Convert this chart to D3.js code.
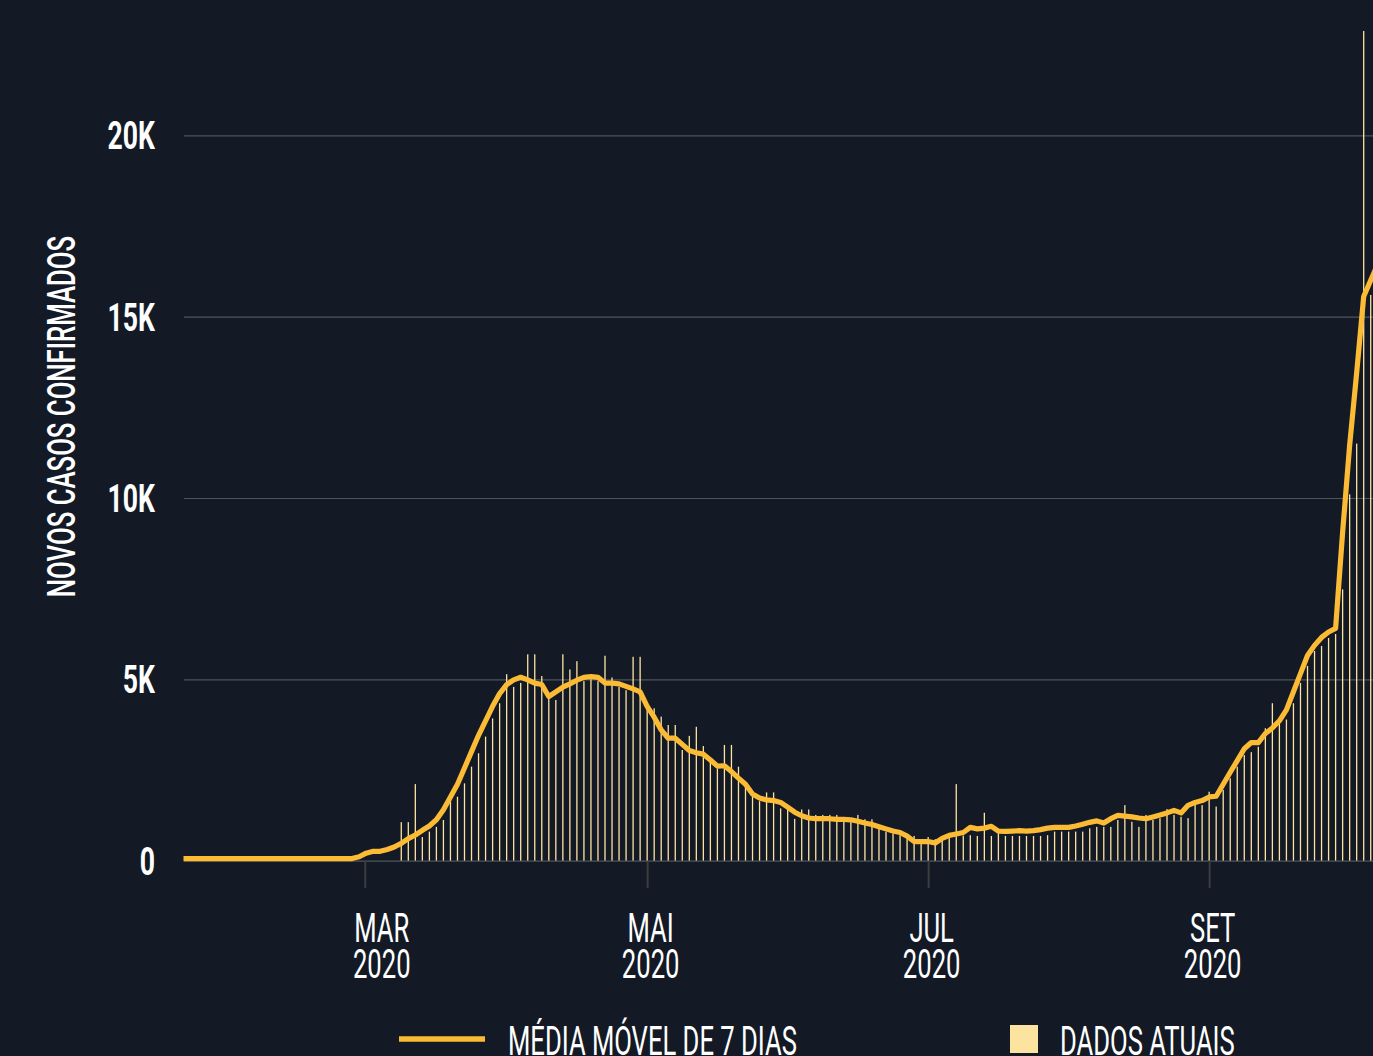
<!DOCTYPE html>
<meta charset="utf-8">
<script src="https://d3js.org/d3.v7.min.js"></script>
<style>
  html, body { margin: 0; padding: 0; background: #131a25; overflow: hidden; }
  svg { display: block; }
  text { fill: #ffffff; font-family: Roboto, "Liberation Sans", sans-serif; }
</style>
<body></body>
<script>

// x positions are simply the order of the reported points
var tickPos = [25.8, 66, 106, 146];
var tickMonths = ["MAR", "MAI", "JUL", "SET"];
var tickYears = ["2020", "2020", "2020", "2020"];
var yTicks = [0, 5000, 10000, 15000, 20000];

// daily reported cases (bars)
var dailyCases = [
  0,0,0,0,0,0,0,0,0,0, 0,0,0,0,0,0,0,0,0,0, 0,0,0,0,0,0,0,0,0,0, 0,
  1060, 1060, 2110, 650, 800, 930, 1120, 1810, 1760, 2130,
  2590, 2960, 3420, 3920, 4340, 5140, 4790, 4900, 5690, 5690,
  5090, 4600, 4430, 5690, 5270, 5500, 4950, 5000, 4950, 5650,
  5050, 4790, 4700, 5620, 5620, 4240, 4200, 3970, 3740, 3740,
  3050, 3440, 3690, 3160, 2800, 2540, 3190, 3190, 2590, 2100,
  1820, 1640, 1880, 1880, 1440, 1400, 1150, 1410, 1410, 1260,
  1260, 1260, 1260, 1070, 1070, 1260, 1140, 1140, 910, 800,
  750, 700, 600, 680, 590, 650, 590, 570, 660, 2110,
  690, 700, 680, 1320, 680, 800, 680, 680, 680, 680,
  680, 680, 700, 800, 800, 800, 800, 800, 890, 930,
  930, 930, 1120, 1530, 1070, 930, 1260, 1120, 1170, 1420,
  1260, 1210, 1170, 1640, 1530, 1900, 1490, 1950, 2270, 2590,
  2910, 2990, 3140, 3650, 4340, 3780, 3890, 4340, 4900, 5370,
  5780, 5920, 6140, 6250, 7480, 10100, 11500, 22880, 15600, 16000
];

// 7 day moving average (line)
var movingAvg = [
  0,0,0,0,0,0,0,0,0,0, 0,0,0,0,0,0,0,0,0,0, 0,0,0,0,0,
  50, 150, 200, 200, 250, 320, 420, 550, 650, 780, 900,
  1070, 1350, 1700, 2050, 2500, 2950, 3400, 3800, 4200, 4550,
  4800, 4930, 5000, 4930, 4840, 4800, 4470, 4600, 4730, 4820,
  4920, 5000, 5020, 5000, 4840, 4840, 4820, 4750, 4680, 4600,
  4200, 3900, 3550, 3320, 3320, 3150, 2980, 2920, 2880, 2720,
  2550, 2560, 2400, 2220, 2050, 1780, 1670, 1620, 1600, 1550,
  1420, 1280, 1180, 1120, 1100, 1100, 1100, 1080, 1080, 1070,
  1030, 980, 940, 880, 820, 760, 720, 620, 470, 470,
  470, 430, 560, 640, 680, 720, 860, 820, 840, 890,
  760, 750, 760, 770, 760, 770, 800, 840, 860, 860,
  860, 900, 950, 1000, 1040, 980, 1100, 1190, 1170, 1150,
  1120, 1100, 1150, 1200, 1260, 1330, 1260, 1470, 1550, 1600,
  1700, 1720, 2050, 2380, 2700, 3030, 3200, 3200, 3450, 3600,
  3800, 4100, 4600, 5100, 5600, 5880, 6100, 6250, 6350, 9000,
  11400, 13400, 15500, 15950, 16400
];

var width = 1373, height = 1056;
var sx = 0.64;   // the original uses a very condensed face

var svg = d3.select("body").append("svg")
  .attr("width", width)
  .attr("height", height);

var xScale = d3.scaleLinear()
  .domain([0, 169])
  .range([183.5, 183.5 + 169 * 7.025]);

var yScale = d3.scaleLinear()
  .domain([0, 20000])
  .range([860.6, 135.4]);

// y axis with gridlines
var yAxis = d3.axisLeft(yScale)
  .tickValues(yTicks)
  .tickSize(-(width - 184))
  .tickPadding(29)
  .tickFormat(function(d) { return d === 0 ? "0" : (d / 1000) + "K"; });

var yAxisGroup = svg.append("g")
  .attr("class", "y axis")
  .attr("transform", "translate(184,0)")
  .call(yAxis);

yAxisGroup.select(".domain").remove();
yAxisGroup.selectAll("line").attr("stroke", "#50545b").attr("stroke-width", 1.2);
yAxisGroup.selectAll("text")
  .attr("x", null).attr("dy", null)
  .attr("transform", "translate(-29,13.5) scale(0.7,1)")
  .attr("text-anchor", "end")
  .style("font-size", "38px")
  .style("font-weight", "700")
  .style("fill", "#ffffff");

// x axis ticks
var xAxis = d3.axisBottom(xScale)
  .tickValues(tickPos)
  .tickSize(27)
  .tickFormat("");

var xAxisGroup = svg.append("g")
  .attr("class", "x axis")
  .attr("transform", "translate(0,861)")
  .call(xAxis);

xAxisGroup.select(".domain").remove();
xAxisGroup.selectAll("line").attr("stroke", "#3a3d42").attr("stroke-width", 2);

// month / year labels, two lines in one text
var labels = svg.append("g").selectAll(".xlabel")
  .data(tickPos)
  .enter().append("text")
  .attr("class", "xlabel")
  .attr("transform", function(d, i) {
    var shift = i === 0 ? 17 : 3.5;
    return "translate(" + (xScale(d) + shift) + ",941.7) scale(" + sx + ",1)";
  })
  .attr("text-anchor", "middle")
  .style("font-size", "40px");

labels.append("tspan")
  .attr("x", 0)
  .text(function(d, i) { return tickMonths[i]; });

labels.append("tspan")
  .attr("x", 0)
  .attr("dy", 36.6)
  .text(function(d, i) { return tickYears[i]; });

// bars
svg.append("g").selectAll(".bar")
  .data(dailyCases)
  .enter().append("rect")
  .attr("class", "bar")
  .attr("x", function(d, i) { return xScale(i) - 0.65; })
  .attr("y", function(d) { return yScale(d); })
  .attr("width", 1.3)
  .attr("height", function(d) { return yScale(0) - yScale(d); })
  .attr("fill", "#fde3a0");

// moving average line
var line = d3.line()
  .x(function(d, i) { return xScale(i); })
  .y(function(d) { return yScale(d) - 2; });

svg.append("path")
  .datum(movingAvg)
  .attr("fill", "none")
  .attr("stroke", "#fbbb35")
  .attr("stroke-width", 5.2)
  .attr("stroke-linejoin", "round")
  .attr("d", line);

// y axis title
svg.append("text")
  .attr("transform", "translate(75,416.5) rotate(-90) scale(0.66,1)")
  .attr("text-anchor", "middle")
  .style("font-size", "39px")
  .style("font-weight", "500")
  .text("NOVOS CASOS CONFIRMADOS");

// legend
var legend = svg.append("g").attr("class", "legend");

legend.append("line")
  .attr("x1", 399).attr("x2", 485)
  .attr("y1", 1039).attr("y2", 1039)
  .attr("stroke", "#fbbb35")
  .attr("stroke-width", 5.5);

legend.append("text")
  .attr("transform", "translate(508,1055) scale(" + sx + ",1)")
  .style("font-size", "40px")
  .text("MÉDIA MÓVEL DE 7 DIAS");

legend.append("rect")
  .attr("x", 1010).attr("y", 1025)
  .attr("width", 28).attr("height", 28)
  .attr("fill", "#fde3a0");

legend.append("text")
  .attr("transform", "translate(1060,1055) scale(" + sx + ",1)")
  .style("font-size", "40px")
  .text("DADOS ATUAIS");

</script>
